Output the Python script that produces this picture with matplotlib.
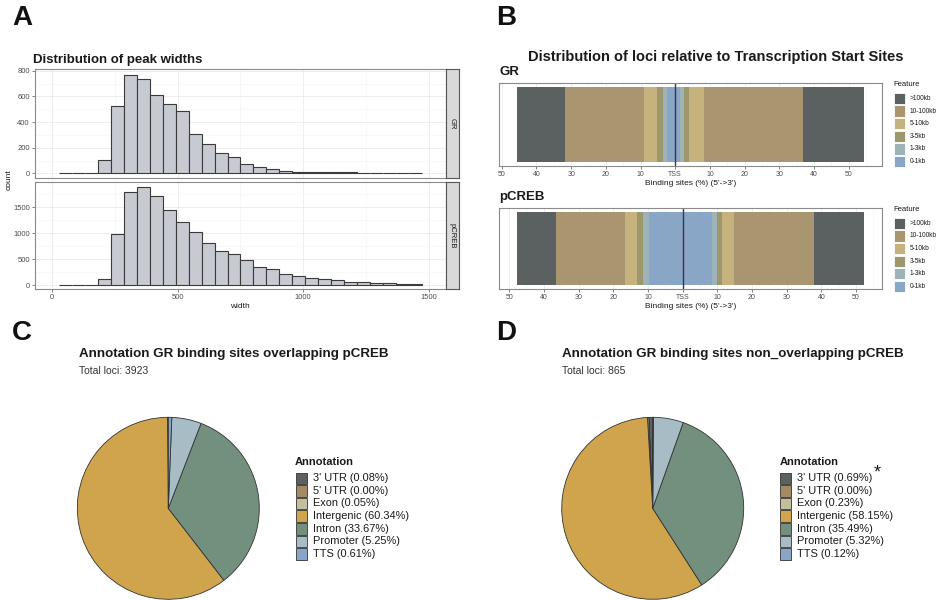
import matplotlib
matplotlib.use("Agg")
import matplotlib.pyplot as plt
from matplotlib.patches import Rectangle
import numpy as np

W, H = 946, 600
plt.rcParams['font.family'] = ['Liberation Sans', 'DejaVu Sans']

# ---------------- Data ----------------
# Panel A: histogram of peak widths (bin counts)
bin_start = 28.0
bin_width = 51.57
gr_counts = [0, 0, 5, 101, 527, 764, 732, 608, 538, 483, 309, 231, 161, 125, 75,
             49, 31, 16, 13, 13, 13, 8, 8, 3, 2, 1, 2, 1]
pcreb_counts = [0, 0, 2, 115, 981, 1801, 1891, 1712, 1455, 1224, 1032, 808, 660,
                596, 481, 346, 308, 218, 179, 135, 115, 96, 71, 58, 38, 45, 32, 32]
facet_names = ['GR', 'pCREB']

# Panel B: distribution relative to TSS (% of binding sites)
features = ['>100kb', '10-100kb', '5-10kb', '3-5kb', '1-3kb', '0-1kb']
feature_colors = ['#5b6061', '#a99670', '#c6b27c', '#9c976c', '#9db3b8', '#89a6c7']
gr_upstream = [14.0, 22.7, 3.8, 1.7, 1.2, 2.3]
gr_downstream = [17.5, 28.6, 4.2, 1.7, 1.0, 1.4]
pcreb_upstream = [11.2, 20.0, 3.5, 1.6, 1.9, 9.6]
pcreb_downstream = [14.5, 23.2, 3.4, 1.4, 1.4, 8.5]
tss_ticks = [-50, -40, -30, -20, -10, 0, 10, 20, 30, 40, 50]
tss_labels = ['50', '40', '30', '20', '10', 'TSS', '10', '20', '30', '40', '50']

# Panels C/D: genomic annotation pies (%)
annotations = ["3' UTR", "5' UTR", 'Exon', 'Intergenic', 'Intron', 'Promoter', 'TTS']
annot_colors = ['#5b6061', '#a38a62', '#c2bf9c', '#cfa44c', '#738f7e', '#a8bcc5', '#88a5c8']
overlap_pct = [0.08, 0.00, 0.05, 60.34, 33.67, 5.25, 0.61]
nonoverlap_pct = [0.69, 0.00, 0.23, 58.15, 35.49, 5.32, 0.12]
overlap_total = 3923
nonoverlap_total = 865

# ---------------- Figure helpers ----------------
fig = plt.figure(figsize=(W / 100, H / 100), dpi=100)


def add_ax(l, t, w, h):
    return fig.add_axes([l / W, 1 - (t + h) / H, w / W, h / H])


def ftext(x, y, s, **kw):
    kw.setdefault('va', 'center')
    return fig.text(x / W, 1 - y / H, s, **kw)


def frect(x, y, w, h, **kw):
    fig.patches.append(Rectangle((x / W, 1 - (y + h) / H), w / W, h / H,
                                 transform=fig.transFigure, figure=fig, **kw))


TXT = '#1a1a1a'
TICK = '#4d4d4d'
GRID = '#ebebeb'
GRIDMIN = '#f4f4f4'
BORDER = '#8a8a8a'


def style_bw(ax, lsize=5.5):
    for s in ax.spines.values():
        s.set_color(BORDER)
        s.set_linewidth(0.8)
    ax.tick_params(axis='both', which='major', length=2, width=0.5, color=TICK,
                   labelsize=lsize, labelcolor=TICK, pad=1.5)
    ax.tick_params(axis='both', which='minor', length=0)
    ax.grid(True, which='major', color=GRID, lw=0.6)
    ax.grid(True, which='minor', color=GRIDMIN, lw=0.4)
    ax.set_axisbelow(True)


# ---------------- Panel labels ----------------
for lab, x, y in [('A', 12, 18), ('B', 496, 18), ('C', 12, 333), ('D', 496, 333)]:
    ftext(x, y, lab, fontsize=20, fontweight='bold', color='#111111', ha='left')

# ---------------- Panel A ----------------
ftext(33, 60, 'Distribution of peak widths', fontsize=9.5, fontweight='bold',
      color=TXT, ha='left')
edges = bin_start + bin_width * np.arange(len(gr_counts))
panels_A = [(69.3, 108.4, gr_counts, (-34, 811), [0, 200, 400, 600, 800],
             [100, 300, 500, 700]),
            (181.7, 107.6, pcreb_counts, (-77, 1992), [0, 500, 1000, 1500],
             [250, 750, 1250, 1750])]
for i, (top, hgt, counts, ylim, yt, ymin) in enumerate(panels_A):
    ax = add_ax(34.7, top, 411.3, hgt)
    ax.bar(edges, counts, width=bin_width, align='edge', color='#c8cad2',
           edgecolor='#3a3a3a', linewidth=0.8)
    ax.set_xlim(-70, 1569)
    ax.set_ylim(*ylim)
    ax.set_xticks([0, 500, 1000, 1500])
    ax.set_xticks([250, 750, 1250], minor=True)
    ax.set_yticks(yt)
    ax.set_yticks(ymin, minor=True)
    style_bw(ax)
    if i == 0:
        ax.tick_params(axis='x', labelbottom=False, length=0)
    else:
        ax.set_xlabel('width', fontsize=6, color=TXT, labelpad=1.5)
    # facet strip
    sax = add_ax(446, top, 12.7, hgt)
    sax.set_facecolor('#d9d9d9')
    sax.set_xticks([])
    sax.set_yticks([])
    for s in sax.spines.values():
        s.set_color('#555555')
        s.set_linewidth(0.8)
    sax.text(0.5, 0.5, facet_names[i], rotation=-90, ha='center', va='center',
             fontsize=5.5, color=TXT, transform=sax.transAxes)
ftext(9, 180, 'count', rotation=90, fontsize=6, color=TXT, ha='center')

# ---------------- Panel B ----------------
ftext(716, 57.3, 'Distribution of loci relative to Transcription Start Sites',
      fontsize=10.5, fontweight='bold', color=TXT, ha='center')


def tss_panel(top, hgt, xlim, up, down, name, name_y, leg_title_y, leg_y0):
    ftext(499, name_y, name, fontsize=9.5, fontweight='bold', color=TXT, ha='left')
    ax = add_ax(499.3, top, 382.4, hgt)
    cols_r = feature_colors[::-1]
    cu = 0.0
    for v, c in zip(up[::-1], cols_r):
        ax.barh(0, -v, left=-cu, height=0.915, color=c, linewidth=0)
        cu += v
    cd = 0.0
    for v, c in zip(down[::-1], cols_r):
        ax.barh(0, v, left=cd, height=0.915, color=c, linewidth=0)
        cd += v
    ax.axvline(0, color='#333a44', lw=1.0)
    ax.set_xlim(*xlim)
    ax.set_ylim(-0.5, 0.5)
    ax.set_xticks(tss_ticks)
    ax.set_xticklabels(tss_labels)
    ax.set_xticks([-45, -35, -25, -15, -5, 5, 15, 25, 35, 45, 55], minor=True)
    ax.set_yticks([])
    style_bw(ax, lsize=5)
    ax.grid(False, axis='y')
    ax.set_xlabel("Binding sites (%) (5'->3')", fontsize=6, color=TXT, labelpad=1.5)
    # legend
    ftext(893, leg_title_y, 'Feature', fontsize=5.5, color=TXT, ha='left')
    for k, (f, c) in enumerate(zip(features, feature_colors)):
        yc = leg_y0 + 12.6 * k
        frect(893.5, yc - 5.6, 11.5, 11.2, facecolor=c, edgecolor='white', lw=0.6)
        ftext(910, yc, f, fontsize=4.7, color=TXT, ha='left')


tss_panel(83.3, 82.4, (-50.7, 59.5), gr_upstream, gr_downstream, 'GR', 72.3,
          84.5, 98.5)
tss_panel(208.3, 80.4, (-52.9, 57.4), pcreb_upstream, pcreb_downstream, 'pCREB',
          197.3, 209.3, 223.3)

# ---------------- Panels C & D ----------------


def pie_panel(cx, cy, r, pct, total, title, tx, lx, star=False):
    ftext(tx, 354, title, fontsize=9.6, fontweight='bold', color=TXT, ha='left')
    ftext(tx, 370.7, 'Total loci: %d' % total, fontsize=7.5, color='#333333', ha='left')
    pad = 1.04
    ax = add_ax(cx - r * pad, cy - r * pad, 2 * r * pad, 2 * r * pad)
    ax.pie(pct, colors=annot_colors, startangle=90, counterclock=True,
           wedgeprops=dict(edgecolor='#333333', linewidth=0.6))
    ax.set_xlim(-pad, pad)
    ax.set_ylim(-pad, pad)
    ax.set_aspect('equal')
    ax.axis('off')
    ftext(lx, 461.7, 'Annotation', fontsize=8, fontweight='bold', color=TXT, ha='left')
    for k, (a, c, p) in enumerate(zip(annotations, annot_colors, pct)):
        yc = 478.3 + 12.6 * k
        frect(lx + 0.5, yc - 5.8, 11, 11.6, facecolor=c, edgecolor='#333333', lw=0.6)
        ftext(lx + 18, yc, '%s (%.2f%%)' % (a, p), fontsize=7.9, color=TXT, ha='left')
    if star:
        ftext(lx + 94, 473, '*', fontsize=13, color=TXT, ha='left')


pie_panel(168.3, 508.3, 91, overlap_pct, overlap_total,
          'Annotation GR binding sites overlapping pCREB', 79, 295)
pie_panel(652.7, 508.3, 91, nonoverlap_pct, nonoverlap_total,
          'Annotation GR binding sites non_overlapping pCREB', 562.3, 779.3, star=True)

fig.savefig('out.png', dpi=100)
